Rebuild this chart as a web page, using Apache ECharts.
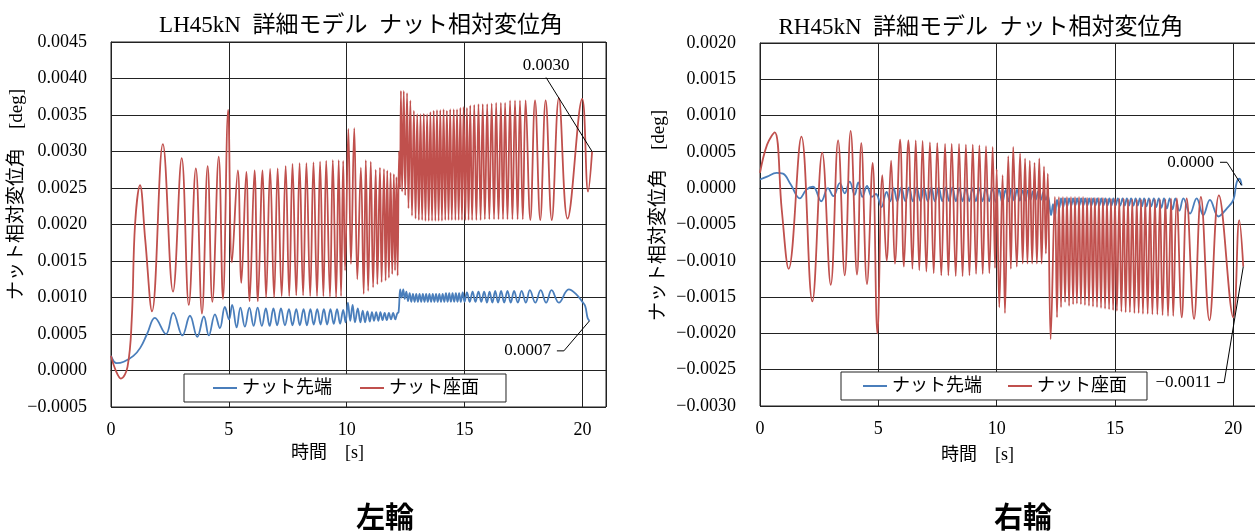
<!DOCTYPE html>
<html>
<head>
<meta charset="utf-8">
<script src="https://cdn.jsdelivr.net/npm/echarts@6.0.0/dist/echarts.min.js"></script>
<style>
  html, body { margin: 0; background: #fff; }
  #main { width: 1255px; height: 532px; }
</style>
</head>
<body>
<div id="main"></div>
<script>
// 左輪 ナット座面 [時間 s, 変位角 deg]
var lhSeat = [
  [0.00, 0.00020], [0.20, 0.00000], [0.42, -0.00011], [0.70, 0.00005], [0.88, 0.00070],
  [1.02, 0.00200], [1.23, 0.00254], [1.45, 0.00180], [1.74, 0.00081], [2.20, 0.00310],
  [2.63, 0.00108], [3.00, 0.00291], [3.30, 0.00090], [3.60, 0.00277], [3.86, 0.00078],
  [4.10, 0.00280], [4.30, 0.00094], [4.57, 0.00293], [4.75, 0.00098], [4.97, 0.00357],
  [5.13, 0.00148], [5.38, 0.00274], [5.53, 0.00120], [5.74, 0.00272], [5.88, 0.00095],
  [6.09, 0.00274], [6.23, 0.00095], [6.43, 0.00274], [6.58, 0.00100], [6.75, 0.00276],
  [6.92, 0.00100], [7.07, 0.00277], [7.24, 0.00102], [7.41, 0.00280], [7.56, 0.00102],
  [7.70, 0.00283], [7.86, 0.00103], [8.00, 0.00284], [8.15, 0.00103], [8.29, 0.00284],
  [8.45, 0.00102], [8.59, 0.00285], [8.74, 0.00102], [8.87, 0.00286], [9.01, 0.00102],
  [9.13, 0.00287], [9.29, 0.00101], [9.41, 0.00288], [9.55, 0.00100], [9.66, 0.00288],
  [9.76, 0.00102], [9.85, 0.00287], [9.93, 0.00137], [10.07, 0.00331], [10.18, 0.00146],
  [10.32, 0.00332], [10.45, 0.00125], [10.60, 0.00278], [10.72, 0.00105], [10.81, 0.00288],
  [10.91, 0.00109], [11.02, 0.00286], [11.12, 0.00114], [11.23, 0.00275], [11.30, 0.00118],
  [11.41, 0.00278], [11.48, 0.00121], [11.58, 0.00276], [11.65, 0.00123], [11.72, 0.00274],
  [11.79, 0.00127], [11.86, 0.00271], [11.93, 0.00132], [12.00, 0.00269], [12.05, 0.00137],
  [12.11, 0.00265], [12.16, 0.00130], [12.22, 0.00300], [12.26, 0.00250], [12.30, 0.00383],
  [12.35, 0.00245], [12.42, 0.00383], [12.48, 0.00240], [12.56, 0.00380], [12.62, 0.00222],
  [12.70, 0.00370], [12.77, 0.00212], [12.85, 0.00356], [12.92, 0.00208], [12.99, 0.00351],
  [13.06, 0.00206], [13.13, 0.00351], [13.20, 0.00206], [13.27, 0.00352], [13.34, 0.00205],
  [13.41, 0.00351], [13.48, 0.00205], [13.55, 0.00354], [13.62, 0.00205], [13.69, 0.00356],
  [13.76, 0.00205], [13.83, 0.00357], [13.90, 0.00205], [13.97, 0.00357], [14.04, 0.00205],
  [14.11, 0.00358], [14.18, 0.00206], [14.25, 0.00356], [14.32, 0.00206], [14.39, 0.00358],
  [14.46, 0.00206], [14.54, 0.00358], [14.61, 0.00206], [14.68, 0.00358], [14.75, 0.00206],
  [14.82, 0.00360], [14.89, 0.00206], [14.96, 0.00361], [15.03, 0.00206], [15.10, 0.00360],
  [15.17, 0.00206], [15.24, 0.00363], [15.32, 0.00206], [15.41, 0.00364], [15.50, 0.00206],
  [15.59, 0.00365], [15.68, 0.00206], [15.77, 0.00365], [15.86, 0.00207], [15.96, 0.00365],
  [16.05, 0.00207], [16.15, 0.00366], [16.25, 0.00207], [16.34, 0.00367], [16.44, 0.00207],
  [16.54, 0.00367], [16.63, 0.00207], [16.72, 0.00367], [16.82, 0.00207], [16.93, 0.00370],
  [17.03, 0.00207], [17.14, 0.00370], [17.25, 0.00207], [17.35, 0.00370], [17.47, 0.00207],
  [17.59, 0.00370], [17.79, 0.00206], [17.99, 0.00370], [18.21, 0.00206], [18.44, 0.00370],
  [18.70, 0.00206], [19.00, 0.00373], [19.37, 0.00208], [19.99, 0.00372], [20.24, 0.00245],
  [20.41, 0.00300]
];

// 左輪 ナット先端
var lhTip = [
  [0.00, 0.00020], [0.24, 0.00010], [0.54, 0.00012], [0.95, 0.00020], [1.24, 0.00031],
  [1.53, 0.00050], [1.86, 0.00072], [2.33, 0.00050], [2.64, 0.00079], [3.03, 0.00048],
  [3.35, 0.00075], [3.66, 0.00046], [3.94, 0.00074], [4.15, 0.00048], [4.41, 0.00077],
  [4.62, 0.00058], [4.83, 0.00087], [5.01, 0.00070], [5.14, 0.00090], [5.33, 0.00059],
  [5.49, 0.00086], [5.68, 0.00060], [5.87, 0.00086], [6.05, 0.00061], [6.22, 0.00086],
  [6.40, 0.00061], [6.57, 0.00085], [6.73, 0.00061], [6.89, 0.00085], [7.05, 0.00062],
  [7.21, 0.00085], [7.38, 0.00062], [7.55, 0.00084], [7.70, 0.00062], [7.86, 0.00084],
  [8.01, 0.00062], [8.17, 0.00084], [8.31, 0.00062], [8.46, 0.00084], [8.60, 0.00063],
  [8.75, 0.00084], [8.89, 0.00063], [9.03, 0.00084], [9.17, 0.00063], [9.31, 0.00084],
  [9.45, 0.00064], [9.59, 0.00084], [9.72, 0.00064], [9.85, 0.00083], [9.95, 0.00066],
  [10.05, 0.00093], [10.15, 0.00068], [10.25, 0.00090], [10.35, 0.00066], [10.47, 0.00085],
  [10.58, 0.00066], [10.68, 0.00082], [10.78, 0.00066], [10.88, 0.00081], [10.98, 0.00067],
  [11.07, 0.00080], [11.16, 0.00068], [11.25, 0.00080], [11.34, 0.00068], [11.43, 0.00080],
  [11.52, 0.00069], [11.61, 0.00079], [11.70, 0.00069], [11.79, 0.00079], [11.88, 0.00070],
  [11.97, 0.00079], [12.06, 0.00070], [12.14, 0.00078], [12.20, 0.00080], [12.27, 0.00111],
  [12.33, 0.00100], [12.40, 0.00111], [12.46, 0.00098], [12.53, 0.00108], [12.60, 0.00095],
  [12.67, 0.00106], [12.74, 0.00094], [12.81, 0.00105], [12.88, 0.00094], [12.95, 0.00105],
  [13.02, 0.00094], [13.09, 0.00105], [13.16, 0.00094], [13.23, 0.00105], [13.30, 0.00094],
  [13.37, 0.00105], [13.44, 0.00094], [13.51, 0.00105], [13.58, 0.00094], [13.65, 0.00105],
  [13.72, 0.00094], [13.79, 0.00105], [13.86, 0.00094], [13.93, 0.00105], [14.00, 0.00094],
  [14.07, 0.00105], [14.14, 0.00094], [14.21, 0.00106], [14.28, 0.00094], [14.35, 0.00106],
  [14.42, 0.00094], [14.49, 0.00106], [14.56, 0.00094], [14.63, 0.00106], [14.70, 0.00094],
  [14.77, 0.00106], [14.84, 0.00094], [14.92, 0.00107], [15.00, 0.00094], [15.10, 0.00107],
  [15.22, 0.00094], [15.34, 0.00108], [15.46, 0.00094], [15.59, 0.00108], [15.71, 0.00094],
  [15.83, 0.00108], [15.95, 0.00093], [16.06, 0.00108], [16.18, 0.00093], [16.30, 0.00109],
  [16.42, 0.00093], [16.55, 0.00109], [16.68, 0.00093], [16.82, 0.00109], [16.96, 0.00093],
  [17.10, 0.00109], [17.26, 0.00093], [17.42, 0.00109], [17.60, 0.00093], [17.77, 0.00110],
  [18.00, 0.00093], [18.23, 0.00110], [18.46, 0.00093], [18.69, 0.00110], [19.00, 0.00093],
  [19.42, 0.00111], [19.75, 0.00104], [20.00, 0.00094], [20.12, 0.00088], [20.22, 0.00072],
  [20.30, 0.00068]
];

// 右輪 ナット座面
var rhSeat = [
  [0.00, 0.00021], [0.30, 0.00060], [0.62, 0.00077], [0.92, -0.00030], [1.21, -0.00111],
  [1.75, 0.00071], [2.21, -0.00156], [2.63, 0.00049], [2.99, -0.00133], [3.30, 0.00066],
  [3.58, -0.00120], [3.83, 0.00079], [4.10, -0.00119], [4.28, 0.00062], [4.52, -0.00132],
  [4.76, 0.00035], [4.96, -0.00200], [5.17, 0.00018], [5.35, -0.00100], [5.54, 0.00038],
  [5.70, -0.00104], [5.92, 0.00067], [6.08, -0.00108], [6.27, 0.00066], [6.44, -0.00111],
  [6.58, 0.00066], [6.73, -0.00113], [6.87, 0.00065], [7.03, -0.00115], [7.18, 0.00063],
  [7.34, -0.00117], [7.49, 0.00062], [7.66, -0.00120], [7.82, 0.00061], [7.96, -0.00120],
  [8.10, 0.00061], [8.27, -0.00121], [8.41, 0.00061], [8.56, -0.00121], [8.70, 0.00060],
  [8.85, -0.00120], [8.99, 0.00060], [9.13, -0.00118], [9.27, 0.00059], [9.41, -0.00118],
  [9.55, 0.00058], [9.69, -0.00117], [9.83, 0.00057], [9.93, -0.00110], [10.00, 0.00026],
  [10.11, -0.00164], [10.25, 0.00018], [10.35, -0.00172], [10.49, 0.00044], [10.60, -0.00111],
  [10.70, 0.00057], [10.85, -0.00108], [10.99, 0.00048], [11.10, -0.00104], [11.20, 0.00041],
  [11.30, -0.00104], [11.40, 0.00038], [11.50, -0.00104], [11.60, 0.00035], [11.70, -0.00104],
  [11.80, 0.00041], [11.90, -0.00104], [12.00, 0.00030], [12.08, -0.00090], [12.16, 0.00020],
  [12.28, -0.00208], [12.46, -0.00012], [12.55, -0.00178], [12.63, -0.00012], [12.72, -0.00164],
  [12.80, -0.00012], [12.89, -0.00157], [12.97, -0.00012], [13.06, -0.00162], [13.14, -0.00012],
  [13.23, -0.00160], [13.31, -0.00012], [13.39, -0.00159], [13.48, -0.00012], [13.56, -0.00160],
  [13.65, -0.00012], [13.73, -0.00161], [13.82, -0.00013], [13.90, -0.00162], [13.99, -0.00013],
  [14.07, -0.00163], [14.15, -0.00013], [14.24, -0.00164], [14.32, -0.00013], [14.41, -0.00165],
  [14.49, -0.00013], [14.58, -0.00166], [14.66, -0.00014], [14.75, -0.00167], [14.83, -0.00014],
  [14.92, -0.00168], [15.00, -0.00014], [15.08, -0.00169], [15.18, -0.00014], [15.27, -0.00170],
  [15.37, -0.00014], [15.45, -0.00171], [15.55, -0.00015], [15.63, -0.00171], [15.73, -0.00015],
  [15.82, -0.00172], [15.92, -0.00015], [16.00, -0.00172], [16.10, -0.00015], [16.18, -0.00173],
  [16.28, -0.00015], [16.38, -0.00173], [16.48, -0.00015], [16.58, -0.00174], [16.69, -0.00015],
  [16.79, -0.00174], [16.90, -0.00015], [17.01, -0.00175], [17.13, -0.00015], [17.24, -0.00176],
  [17.37, -0.00014], [17.46, -0.00176], [17.61, -0.00014], [17.82, -0.00178], [18.03, -0.00014],
  [18.34, -0.00180], [18.63, -0.00012], [18.99, -0.00182], [19.39, -0.00010], [20.00, -0.00178],
  [20.25, -0.00044], [20.42, -0.00108]
];

// 右輪 ナット先端
var rhTip = [
  [0.00, 0.00012], [0.30, 0.00016], [0.70, 0.00021], [0.97, 0.00020], [1.30, 0.00005],
  [1.68, -0.00014], [1.96, -0.00002], [2.24, 0.00002], [2.59, -0.00018], [2.87, 0.00000],
  [3.10, -0.00011], [3.37, 0.00007], [3.58, -0.00007], [3.79, 0.00009], [4.00, -0.00009],
  [4.15, 0.00008], [4.33, -0.00012], [4.52, 0.00003], [4.73, -0.00012], [4.90, -0.00008],
  [5.13, -0.00026], [5.35, -0.00005], [5.50, -0.00018], [5.65, 0.00000], [5.80, -0.00018],
  [5.97, 0.00001], [6.14, -0.00018], [6.30, 0.00001], [6.46, -0.00018], [6.62, 0.00001],
  [6.78, -0.00018], [6.93, 0.00001], [7.09, -0.00018], [7.24, 0.00001], [7.39, -0.00018],
  [7.55, 0.00001], [7.70, -0.00018], [7.85, 0.00001], [7.99, -0.00018], [8.13, 0.00001],
  [8.28, -0.00018], [8.42, 0.00000], [8.56, -0.00018], [8.70, 0.00000], [8.84, -0.00018],
  [8.98, 0.00000], [9.12, -0.00018], [9.26, 0.00000], [9.40, -0.00018], [9.54, 0.00000],
  [9.68, -0.00018], [9.82, 0.00000], [9.96, -0.00019], [10.10, -0.00002], [10.24, -0.00020],
  [10.38, -0.00002], [10.50, -0.00018], [10.62, -0.00001], [10.74, -0.00017], [10.86, -0.00002],
  [10.98, -0.00017], [11.10, -0.00003], [11.21, -0.00017], [11.32, -0.00003], [11.43, -0.00016],
  [11.54, -0.00004], [11.65, -0.00016], [11.76, -0.00004], [11.87, -0.00016], [11.98, -0.00005],
  [12.08, -0.00016], [12.16, -0.00010], [12.30, -0.00037], [12.38, -0.00022], [12.46, -0.00039],
  [12.55, -0.00016], [12.64, -0.00028], [12.72, -0.00014], [12.81, -0.00026], [12.89, -0.00014],
  [12.98, -0.00025], [13.06, -0.00014], [13.15, -0.00024], [13.23, -0.00014], [13.32, -0.00024],
  [13.40, -0.00014], [13.49, -0.00024], [13.57, -0.00014], [13.66, -0.00024], [13.74, -0.00014],
  [13.83, -0.00024], [13.91, -0.00014], [14.00, -0.00024], [14.08, -0.00014], [14.17, -0.00024],
  [14.25, -0.00014], [14.34, -0.00024], [14.42, -0.00014], [14.51, -0.00024], [14.59, -0.00014],
  [14.68, -0.00024], [14.76, -0.00014], [14.85, -0.00024], [14.93, -0.00014], [15.02, -0.00024],
  [15.12, -0.00014], [15.22, -0.00024], [15.32, -0.00014], [15.41, -0.00024], [15.50, -0.00014],
  [15.59, -0.00024], [15.68, -0.00014], [15.78, -0.00024], [15.87, -0.00014], [15.96, -0.00024],
  [16.05, -0.00014], [16.14, -0.00025], [16.23, -0.00014], [16.33, -0.00025], [16.43, -0.00014],
  [16.53, -0.00025], [16.64, -0.00014], [16.74, -0.00026], [16.85, -0.00014], [16.96, -0.00027],
  [17.07, -0.00014], [17.19, -0.00028], [17.31, -0.00014], [17.43, -0.00029], [17.55, -0.00014],
  [17.72, -0.00031], [17.89, -0.00014], [18.17, -0.00035], [18.45, -0.00014], [18.73, -0.00037],
  [19.01, -0.00016], [19.37, -0.00039], [19.72, -0.00028], [20.00, -0.00016], [20.14, 0.00008],
  [20.26, 0.00013], [20.35, 0.00004]
];

var seriesNames = ['ナット先端', 'ナット座面'];
var BLUE = '#4a7ebb';
var RED = '#c0504d';
var LINE = '#222';
var SERIF = "'Liberation Serif', 'Noto Sans CJK JP', serif";
var NOTE_FONT = "17px 'Liberation Serif', serif";

function fmt(v) {
  return v.toFixed(4).replace('-', '−');
}

function xAxisOf(i, gap) {
  return {
    type: 'value', gridIndex: i, min: 0, max: 21, interval: 5,
    axisLine: { show: true, lineStyle: { color: LINE, width: 1 } },
    axisTick: { show: false },
    splitLine: { show: true, lineStyle: { color: LINE, width: 1 } },
    axisLabel: {
      fontSize: 18, color: '#000', fontFamily: SERIF, margin: 14, showMaxLabel: false,
      formatter: function (v) { return v > 20 ? '' : String(v); }
    },
    name: '時間　[s]', nameLocation: 'middle', nameGap: gap, nameMoveOverlap: false,
    nameTextStyle: { fontSize: 18, color: '#000', fontFamily: SERIF, padding: [0, 62, 0, 0] }
  };
}

function yAxisOf(i, min, max, gap, shift) {
  return {
    type: 'value', gridIndex: i, min: min, max: max, interval: 0.0005,
    axisLine: { show: true, lineStyle: { color: LINE, width: 1 } },
    axisTick: { show: false },
    splitLine: { show: true, lineStyle: { color: LINE, width: 1 } },
    axisLabel: { fontSize: 18, color: '#000', fontFamily: SERIF, margin: 24, formatter: fmt },
    name: 'ナット相対変位角　[deg]', nameLocation: 'middle', nameGap: gap, nameRotate: 90,
    nameMoveOverlap: false,
    nameTextStyle: { fontSize: 19, color: '#000', fontFamily: SERIF, padding: [0, 0, 0, shift] }
  };
}

function lineSeries(name, idx, color, data) {
  return {
    type: 'line', name: name, xAxisIndex: idx, yAxisIndex: idx,
    data: data,
    symbol: 'none', smooth: 0.4, silent: true,
    lineStyle: { color: color, width: 1.8 },
    itemStyle: { color: color },
    emphasis: { disabled: true },
    animation: false
  };
}

function legendOf(left, top, pad, gap) {
  return {
    data: seriesNames, left: left, top: top, padding: pad, itemGap: gap,
    itemWidth: 24, itemHeight: 12, icon: 'path://M0,5 L24,5 L24,7 L0,7 Z',
    borderColor: LINE, borderWidth: 1, borderRadius: 0, backgroundColor: '#fff',
    textStyle: { fontSize: 18, color: '#000', fontFamily: SERIF },
    selectedMode: false
  };
}

var chart = echarts.init(document.getElementById('main'));
chart.setOption({
  backgroundColor: '#fff',
  animation: false,
  color: [BLUE, RED],
  title: [
    { text: 'LH45kN  詳細モデル  ナット相対変位角', left: 356, top: 9, textAlign: 'center',
      textStyle: { fontSize: 23, fontWeight: 'normal', color: '#000', fontFamily: SERIF } },
    { text: 'RH45kN  詳細モデル  ナット相対変位角', left: 976, top: 11, textAlign: 'center',
      textStyle: { fontSize: 23, fontWeight: 'normal', color: '#000', fontFamily: SERIF } },
    { text: '左輪', left: 380, top: 497, textAlign: 'center',
      textStyle: { fontSize: 29, fontWeight: 'bold', color: '#000', fontFamily: "'Noto Sans CJK JP', sans-serif" } },
    { text: '右輪', left: 1018, top: 497, textAlign: 'center',
      textStyle: { fontSize: 29, fontWeight: 'bold', color: '#000', fontFamily: "'Noto Sans CJK JP', sans-serif" } }
  ],
  legend: [
    legendOf(184, 374, [5, 27, 5, 29], 28),
    legendOf(841, 372, [5, 20, 5, 22], 26)
  ],
  grid: [
    { left: 111, top: 42, width: 495, height: 365, show: true, borderColor: LINE, borderWidth: 1, outerBoundsMode: 'none' },
    { left: 760, top: 43, width: 497, height: 363, show: true, borderColor: LINE, borderWidth: 1, outerBoundsMode: 'none' }
  ],
  xAxis: [xAxisOf(0, 37), xAxisOf(1, 40)],
  yAxis: [
    yAxisOf(0, -0.0005, 0.0045, 84, 60),
    yAxisOf(1, -0.003, 0.002, 91, 18)
  ],
  series: [
    lineSeries(seriesNames[0], 0, BLUE, lhTip),
    lineSeries(seriesNames[1], 0, RED, lhSeat),
    lineSeries(seriesNames[0], 1, BLUE, rhTip),
    lineSeries(seriesNames[1], 1, RED, rhSeat)
  ]
});

// 最終値の注記：最終点の画素位置からずらして置き、引き出し線で結ぶ
var notes = [
  { grid: 0, data: lhSeat, dx: -46, dy: -86, side: 'bottom' },
  { grid: 0, data: lhTip, dx: -62, dy: 30, side: 'right' },
  { grid: 1, data: rhTip, dx: -51, dy: -23, side: 'right' },
  { grid: 1, data: rhSeat, dx: -60, dy: 116, side: 'right' }
];
var measure = document.createElement('canvas').getContext('2d');
measure.font = NOTE_FONT;
var elements = [];
notes.forEach(function (n) {
  var last = n.data[n.data.length - 1];
  var p = chart.convertToPixel({ gridIndex: n.grid }, last);
  var text = fmt(last[1]);
  var cx = p[0] + n.dx, cy = p[1] + n.dy;
  var w = measure.measureText(text).width;
  var pts;
  if (n.side === 'bottom') {
    pts = [[cx, cy + 12], p];
  } else {
    var s = [cx + w / 2 + 6, cy];
    pts = [s, [s[0] + 7, s[1]], p];
  }
  elements.push({
    type: 'text', z: 100, silent: true,
    style: { text: text, x: cx, y: cy, font: NOTE_FONT, fill: '#000', align: 'center', verticalAlign: 'middle' }
  });
  elements.push({
    type: 'polyline', z: 100, silent: true,
    shape: { points: pts },
    style: { stroke: '#000', lineWidth: 1, fill: null }
  });
});
chart.setOption({ graphic: elements });
</script>
</body>
</html>
